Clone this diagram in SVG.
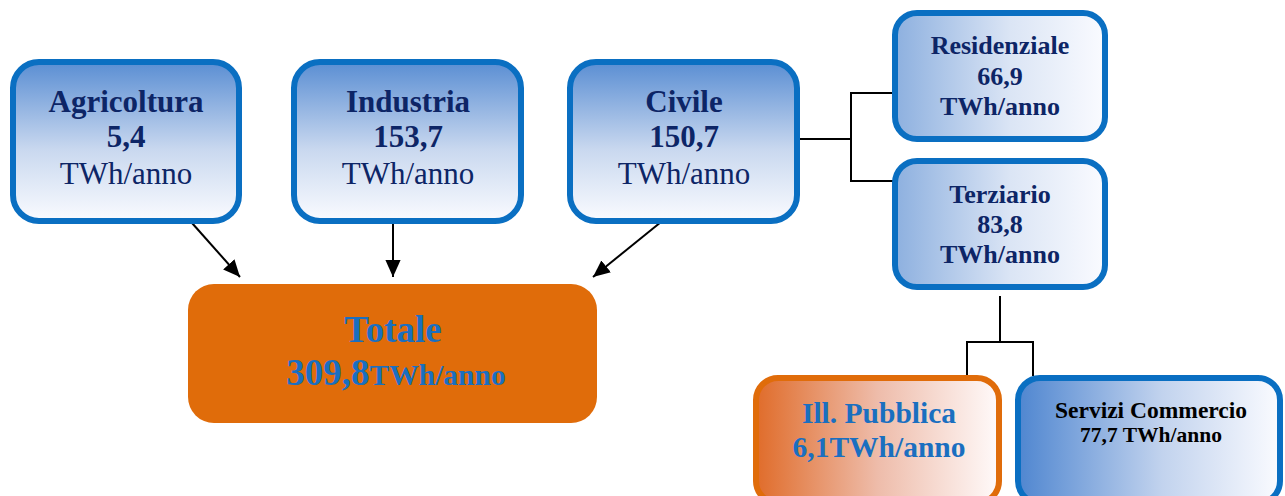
<svg xmlns="http://www.w3.org/2000/svg" width="1285" height="496" viewBox="0 0 1285 496">
<style>
.box{stroke:#0a6fc2;stroke-width:6}
.t{font-family:"Liberation Serif","Times New Roman",serif;text-anchor:middle;fill:#0d2566}
.b{font-weight:bold}
.c{stroke:#000;stroke-width:2;fill:none}
</style>
<defs>
<linearGradient id="gv" x1="0" y1="0" x2="0" y2="1">
<stop offset="0" stop-color="#5a8ed3"/><stop offset="0.55" stop-color="#c9d8ef"/><stop offset="1" stop-color="#fafbff"/>
</linearGradient>
<linearGradient id="gh" x1="0" y1="0" x2="1" y2="0">
<stop offset="0" stop-color="#8db0df"/><stop offset="0.55" stop-color="#dbe5f5"/><stop offset="1" stop-color="#fafbff"/>
</linearGradient>
<linearGradient id="gh2" x1="0" y1="0" x2="1" y2="0">
<stop offset="0" stop-color="#4f86d0"/><stop offset="0.55" stop-color="#c2d3ee"/><stop offset="1" stop-color="#fafbff"/>
</linearGradient>
<linearGradient id="go" x1="0" y1="0" x2="1" y2="0">
<stop offset="0" stop-color="#e06c2a"/><stop offset="0.5" stop-color="#eebcaa"/><stop offset="1" stop-color="#fffafa"/>
</linearGradient>
<marker id="a" viewBox="0 0 10 9" refX="10" refY="4.5" markerWidth="8.5" markerHeight="7.6" orient="auto">
<path d="M0,0 L10,4.5 L0,9 z" fill="#000"/>
</marker>
</defs>
<g id="connectors">
<line class="c" x1="192" y1="223" x2="240" y2="277" marker-end="url(#a)"/>
<line class="c" x1="393" y1="223" x2="393" y2="277" marker-end="url(#a)"/>
<line class="c" x1="661" y1="222" x2="593" y2="277" marker-end="url(#a)"/>
<polyline class="c" points="800,139 851,139"/>
<polyline class="c" points="895,93 851,93 851,181 895,181"/>
<polyline class="c" points="1000,296 1000,342"/>
<polyline class="c" points="967,378 967,342 1033,342 1033,376"/>
</g>
<g id="agricoltura">
<rect class="box" x="13" y="62" width="226" height="159" rx="26" fill="url(#gv)"/>
<text class="t b" x="126" y="112" font-size="31">Agricoltura</text>
<text class="t b" x="126" y="147" font-size="31">5,4</text>
<text class="t" x="126" y="184" font-size="31">TWh/anno</text>
</g>
<g id="industria">
<rect class="box" x="294" y="62" width="227" height="159" rx="26" fill="url(#gv)"/>
<text class="t b" x="408" y="112" font-size="31">Industria</text>
<text class="t b" x="408" y="147" font-size="31">153,7</text>
<text class="t" x="408" y="184" font-size="31">TWh/anno</text>
</g>
<g id="civile">
<rect class="box" x="570" y="62" width="227" height="159" rx="26" fill="url(#gv)"/>
<text class="t b" x="684" y="112" font-size="31">Civile</text>
<text class="t b" x="684" y="147" font-size="31">150,7</text>
<text class="t" x="684" y="184" font-size="31">TWh/anno</text>
</g>
<g id="residenziale">
<rect class="box" x="895" y="13" width="210" height="126" rx="22" fill="url(#gh)"/>
<text class="t b" x="1000" y="54" font-size="26">Residenziale</text>
<text class="t b" x="1000" y="85" font-size="26">66,9</text>
<text class="t b" x="1000" y="115" font-size="26">TWh/anno</text>
</g>
<g id="terziario">
<rect class="box" x="895" y="161" width="210" height="126" rx="22" fill="url(#gh)"/>
<text class="t b" x="1000" y="203" font-size="26">Terziario</text>
<text class="t b" x="1000" y="233" font-size="26">83,8</text>
<text class="t b" x="1000" y="263" font-size="26">TWh/anno</text>
</g>
<g id="totale">
<rect x="188" y="284" width="409" height="139" rx="26" fill="#e06c0a"/>
<text class="t b" x="393" y="342" font-size="37" style="fill:#1a6fc0">Totale</text>
<text class="t b" x="396" y="385" style="fill:#1a6fc0"><tspan font-size="37">309,8</tspan><tspan font-size="29.5">TWh/anno</tspan></text>
</g>
<g id="ill-pubblica">
<rect x="756" y="378" width="243" height="125" rx="22" fill="url(#go)" stroke="#e06c0a" stroke-width="6"/>
<text class="t b" x="879" y="423" font-size="29.5" style="fill:#1a6fc0">Ill. Pubblica</text>
<text class="t b" x="879" y="457" font-size="29.5" style="fill:#1a6fc0">6,1TWh/anno</text>
</g>
<g id="servizi-commercio">
<rect class="box" x="1018" y="378" width="262" height="125" rx="22" fill="url(#gh2)"/>
<text class="t b" x="1151" y="418" font-size="23.5" style="fill:#000">Servizi Commercio</text>
<text class="t b" x="1151" y="442" font-size="21.5" style="fill:#000">77,7 TWh/anno</text>
</g>
</svg>
